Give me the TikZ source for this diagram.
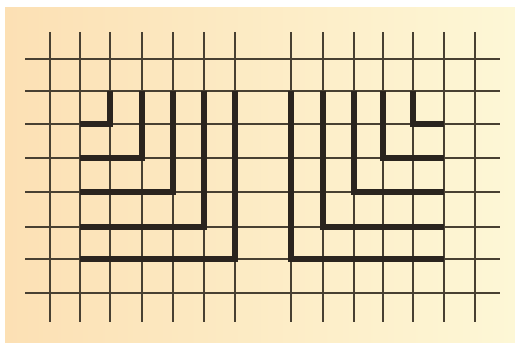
\documentclass[tikz,border=0pt]{standalone}
\usepackage{tikz}
\usetikzlibrary{calc}

\definecolor{paperL}{RGB}{252,224,180}
\definecolor{paperM}{RGB}{254,240,205}
\definecolor{paperR}{RGB}{253,247,214}
\definecolor{ink}{RGB}{72,64,50}
\definecolor{inkdark}{RGB}{42,36,30}

\tikzset{
  gridline/.style={ink, line width=1.1pt},
  heavy/.style={inkdark, line width=5.5pt, line join=miter}
}

\begin{document}
\begin{tikzpicture}[x=1pt,y=-1pt]
    \useasboundingbox (0,0) rectangle (515,343);
    \fill[white] (0,0) rectangle (515,343);
    \shade[left color=paperL, middle color=paperM, right color=paperR] (5,7) rectangle (515,343);

    % thin grid
    \foreach \y in {59,91,124,158,192,227,259,293}
        \draw[gridline] (25,\y) -- (500,\y);
    \foreach \x in {50,80,110,142,173,204,235,291,323,354,383,413,444,475}
        \draw[gridline] (\x,32) -- (\x,322);

    % left corners
    \foreach \x/\y in {110/124,142/158,173/192,204/227,235/259}
        \draw[heavy] (\x,91) -- (\x,\y) -- (80,\y);

    % right corners
    \foreach \x/\y in {413/124,383/158,354/192,323/227,291/259}
        \draw[heavy] (\x,91) -- (\x,\y) -- (444,\y);
\end{tikzpicture}
\end{document}
